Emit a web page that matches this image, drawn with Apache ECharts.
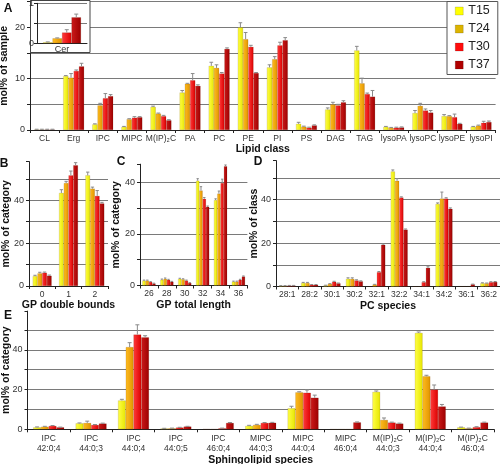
<!DOCTYPE html>
<html><head><meta charset="utf-8">
<script src="https://cdn.jsdelivr.net/npm/echarts@6/dist/echarts.min.js"></script>
<style>html,body{margin:0;padding:0;background:#fff}#c{width:500px;height:464px}</style>
</head><body><div id="c"></div>
<script>
// ---------- DATA ----------
const temps = ['T15', 'T24', 'T30', 'T37'];

// Panel A: lipid classes (mol% of sample)
const lipidClasses = ['CL','Erg','IPC','MIPC','M(IP)\u2082C','PA','PC','PE','PI','PS','DAG','TAG','lysoPA','lysoPC','lysoPE','lysoPI'];
const A_T15 = [0.1, 10.5, 1.1, 0.6, 4.5, 7.3, 12.5, 20.0, 12.2, 1.2, 4.0, 15.5, 0.6, 3.3, 2.7, 0.6];
const A_T24 = [0.1, 10.2, 4.8, 2.1, 3.2, 9.0, 12.1, 17.7, 13.8, 0.65, 5.0, 9.1, 0.4, 4.7, 2.7, 0.85];
const A_T30 = [0.1, 11.5, 6.2, 2.4, 2.7, 9.7, 11.0, 16.2, 16.5, 0.45, 4.8, 7.0, 0.45, 3.8, 2.5, 1.4];
const A_T37 = [0.1, 12.4, 6.6, 2.5, 1.9, 8.6, 15.8, 11.1, 17.5, 0.9, 5.4, 6.5, 0.5, 3.4, 1.2, 1.55];
const A_E15 = [0.05, 0.1, 0.1, 0.1, 0.15, 0.4, 0.7, 0.9, 0.5, 0.3, 0.3, 0.8, 0.1, 0.5, 0.3, 0.1];
const A_E24 = [0.05, 0.8, 0.4, 0.1, 0.1, 0.1, 0.6, 1.3, 0.5, 0.1, 0.4, 1.0, 0.1, 0.5, 0.1, 0.1];
const A_E30 = [0.05, 0.2, 0.9, 0.2, 0.15, 1.3, 0.2, 0.3, 0.6, 0.1, 0.2, 0.2, 0.1, 0.3, 0.6, 0.3];
const A_E37 = [0.05, 0.6, 0.3, 0.1, 0.1, 0.2, 0.2, 0.1, 0.5, 0.1, 0.3, 1.2, 0.1, 0.4, 0.1, 0.2];

// Inset: Cer
const cerCats = ['Cer'];
const Cer_vals = [0.025, 0.125, 0.27, 0.65];
const Cer_errs = [0.01, 0.01, 0.07, 0.08];

// Panel B: GP double bonds
const B_cats = ['0', '1', '2'];
const B_T15 = [4.6, 43.4, 51.6];
const B_T24 = [5.9, 48.0, 45.4];
const B_T30 = [6.2, 51.6, 42.0];
const B_T37 = [4.8, 56.3, 38.5];
const B_E15 = [0.4, 1.5, 1.5];
const B_E24 = [0.5, 0.8, 0.7];
const B_E30 = [0.3, 2.0, 2.5];
const B_E37 = [0.3, 1.2, 0.5];

// Panel C: GP total length
const C_cats = ['26', '28', '30', '32', '34', '36'];
const C_T15 = [1.9, 2.2, 2.6, 40.6, 33.1, 1.5];
const C_T24 = [1.9, 2.6, 2.4, 36.8, 35.6, 1.5];
const C_T30 = [1.4, 2.2, 1.9, 33.6, 39.7, 2.2];
const C_T37 = [0.8, 1.5, 1.0, 30.5, 46.2, 3.5];
const C_E15 = [0.2, 0.3, 0.2, 0.8, 0.5, 0.2];
const C_E24 = [0.2, 0.3, 0.2, 1.5, 1.0, 0.2];
const C_E30 = [0.1, 0.2, 0.2, 0.5, 1.5, 0.2];
const C_E37 = [0.1, 0.1, 0.1, 0.3, 0.5, 0.2];

// Panel D: PC species
const D_cats = ['28:1','28:2','30:1','30:2','32:1','32:2','34:1','34:2','36:1','36:2'];
const D_T15 = [0.3, 1.6, 0.5, 3.5, 0, 53.0, 0, 38.0, 0.1, 1.5];
const D_T24 = [0.3, 1.6, 1.2, 3.5, 0.9, 48.7, 0, 40.5, 0.1, 1.5];
const D_T30 = [0.4, 0.8, 2.2, 2.8, 6.6, 41.0, 2.0, 40.5, 0.1, 2.0];
const D_T37 = [0.4, 0.8, 1.5, 2.4, 19.2, 26.2, 8.6, 35.8, 1.0, 2.1];
const D_E15 = [0.1, 0.3, 0.1, 0.5, 0, 0.7, 0, 0.5, 0, 0.2];
const D_E24 = [0.1, 0.3, 0.1, 0.5, 0.1, 1.0, 0, 3.0, 0, 0.1];
const D_E30 = [0.1, 0.1, 0.2, 0.3, 0.3, 0.3, 0.2, 0.4, 0, 0.2];
const D_E37 = [0.1, 0.1, 0.1, 0.2, 0.4, 0.3, 0.5, 0.4, 0.1, 0.2];

// Panel E: sphingolipid species
const E_cats = ['IPC\n42:0;4','IPC\n44:0;3','IPC\n44:0;4','IPC\n44:0;5','IPC\n46:0;4',
  'MIPC\n44:0;3','MIPC\n44:0;4','MIPC\n46:0;4','M(IP)\u2082C\n44:0;3','M(IP)\u2082C\n44:0;4','M(IP)\u2082C\n46:0;4'];
const E_T15 = [1.0, 3.0, 14.5, 0.4, 0.1, 1.7, 10.6, 0, 18.8, 48.5, 1.0];
const E_T24 = [1.3, 3.2, 41.4, 0.5, 0.1, 2.2, 18.6, 0, 4.7, 26.7, 0.5];
const E_T30 = [1.7, 2.2, 47.7, 0.9, 0.5, 3.2, 18.4, 0, 3.4, 20.0, 1.1];
const E_T37 = [1.0, 2.9, 46.3, 1.4, 3.2, 3.3, 15.9, 3.5, 2.9, 11.5, 3.4];
const E_E15 = [0.2, 0.2, 0.6, 0.1, 0, 0.3, 1.0, 0, 0.5, 0.5, 0.1];
const E_E24 = [0.2, 0.9, 2.2, 0.1, 0, 0.3, 0.3, 0, 1.0, 0.5, 0.1];
const E_E30 = [0.2, 0.2, 4.9, 0.1, 0.1, 0.2, 1.4, 0, 0.2, 2.3, 0.2];
const E_E37 = [0.1, 0.2, 0.8, 0.1, 0.2, 0.2, 1.3, 0.2, 0.2, 1.0, 0.2];

// ---------- STYLE ----------
const FONT = 'Arial, "Liberation Sans", sans-serif';
const barGrad = [['#ffff48', '#e6e600'], ['#ffbc20', '#e09400'], ['#ff3c3c', '#dc0000'], ['#cc1a1a', '#9c0000']];
const legendColors = ['#ffff00', '#dcb400', '#ff0c0c', '#b00000'];
const GRID_COLOR = '#7a7a7a';

function grad(i) {
  return { type: 'linear', x: 0, y: 0, x2: 1, y2: 0,
    colorStops: [{ offset: 0, color: barGrad[i][0] }, { offset: 1, color: barGrad[i][1] }] };
}

const grids = [
  { left: 30, top: 1.7, width: 465.6, height: 128.3 },        // A
  { left: 29, top: 161.6, width: 79, height: 124.4 },          // B
  { left: 140, top: 164.2, width: 107.4, height: 121.3 },      // C
  { left: 276, top: 160.6, width: 224, height: 125.9 },        // D
  { left: 27.5, top: 311.1, width: 466.4, height: 118.2 },     // E
  { left: 37, top: 3.3, width: 50, height: 40, z: 51 }         // inset
].map(g => Object.assign({ outerBoundsMode: 'none', containLabel: false }, g));

function catAxis(g, data, name, nameGap, labelOpts, extra) {
  return Object.assign({
    type: 'category', gridIndex: g, data: data,
    name: name, nameLocation: 'middle', nameGap: nameGap,
    nameTextStyle: { fontWeight: 'bold', fontSize: 10.5, color: '#111', fontFamily: FONT },
    axisLine: { lineStyle: { color: '#222', width: 1 } },
    axisTick: { show: true, length: 3, lineStyle: { color: '#222' } },
    axisLabel: Object.assign({ fontSize: 8.5, color: '#333', margin: 4, interval: 0, fontFamily: FONT, hideOverlap: false }, labelOpts || {}),
    splitLine: { show: false }
  }, extra || {});
}
function valAxis(g, max, interval, labelStep, name, nameGap, showMaxLine, extra) {
  return Object.assign({
    type: 'value', gridIndex: g, min: 0, max: max, interval: interval,
    name: name, nameLocation: 'middle', nameGap: nameGap, nameMoveOverlap: false,
    nameTextStyle: { fontWeight: 'bold', fontSize: 10.5, color: '#111', fontFamily: FONT },
    axisLine: { show: true, lineStyle: { color: '#222', width: 1 } },
    axisTick: { show: true, length: 3, lineStyle: { color: '#222' } },
    axisLabel: { fontSize: 9, color: '#333', margin: 5, fontFamily: FONT, hideOverlap: false,
      formatter: v => (Math.abs(v / labelStep - Math.round(v / labelStep)) < 1e-6 && v <= max) ? String(v) : '' },
    splitLine: { show: true, showMaxLine: showMaxLine, lineStyle: { color: GRID_COLOR, width: 1 } }
  }, extra || {});
}

const xAxes = [
  catAxis(0, lipidClasses, 'Lipid class', 12),
  catAxis(1, B_cats, 'GP double bounds', 13),
  catAxis(2, C_cats, 'GP total length', 12),
  catAxis(3, D_cats, 'PC species', 12),
  catAxis(4, E_cats, 'Sphingolipid species', 22, { lineHeight: 10 }),
  catAxis(5, cerCats, '', 0, { margin: 2, fontSize: 9 }, { z: 52, axisTick: { show: false } })
];
const yAxes = [
  valAxis(0, 25, 5, 10, 'mol% of sample', 20, true),
  valAxis(1, 58, 10, 20, 'mol% of category', 17, false),
  valAxis(2, 47, 10, 20, 'mol% of category', 18, false),
  valAxis(3, 58, 10, 20, 'mol% of class', 16, false),
  valAxis(4, 59.5, 10, 20, 'mol% of category', 15.5, false),
  valAxis(5, 1, 0.5, 1, '', 0, true, { z: 52, axisLabel: { fontSize: 9, color: '#333', margin: 3, fontFamily: FONT,
      formatter: v => (v === 0 || v === 1) ? String(v) : '' } })
];

const series = [];
function addPanel(g, vals, errs, gap, zBase) {
  for (let i = 0; i < 4; i++) {
    series.push({
      name: temps[i], type: 'bar', xAxisIndex: g, yAxisIndex: g,
      data: vals[i], barGap: '0%', barCategoryGap: (gap * 100) + '%',
      itemStyle: { color: grad(i), borderColor: 'rgba(80,40,0,0.35)', borderWidth: 0.4 },
      z: zBase, silent: true
    });
  }
  for (let i = 0; i < 4; i++) {
    const idx = i;
    series.push({
      name: temps[i], type: 'custom', xAxisIndex: g, yAxisIndex: g,
      data: vals[i].map((v, k) => [k, v, errs[i][k]]),
      encode: { x: 0, y: 1 }, z: zBase + 1, silent: true,
      renderItem: function (params, api) {
        const cat = api.value(0), v = api.value(1), e = api.value(2);
        if (!e) return null;
        const p0 = api.coord([cat, v]);
        const p1 = api.coord([cat, v + e]);
        const band = api.size([1, 0])[0];
        const bw = band * (1 - gap) / 4;
        const x = p0[0] + (idx - 1.5) * bw;
        const cap = Math.max(2, Math.min(bw * 0.7, 4));
        return { type: 'group', children: [
          { type: 'line', shape: { x1: x, y1: p0[1], x2: x, y2: p1[1] }, style: { stroke: '#8a8a8a', lineWidth: 1 } },
          { type: 'line', shape: { x1: x - cap / 2, y1: p1[1], x2: x + cap / 2, y2: p1[1] }, style: { stroke: '#8a8a8a', lineWidth: 1 } }
        ] };
      }
    });
  }
}
addPanel(0, [A_T15, A_T24, A_T30, A_T37], [A_E15, A_E24, A_E30, A_E37], 0.28, 2);
addPanel(1, [B_T15, B_T24, B_T30, B_T37], [B_E15, B_E24, B_E30, B_E37], 0.28, 2);
addPanel(2, [C_T15, C_T24, C_T30, C_T37], [C_E15, C_E24, C_E30, C_E37], 0.26, 2);
addPanel(3, [D_T15, D_T24, D_T30, D_T37], [D_E15, D_E24, D_E30, D_E37], 0.24, 2);
addPanel(4, [E_T15, E_T24, E_T30, E_T37], [E_E15, E_E24, E_E30, E_E37], 0.27, 2);
addPanel(5, Cer_vals.map(v => [v]), Cer_errs.map(v => [v]), 0.24, 53);

const letters = [['A', 8, 8.5], ['B', 4, 164], ['C', 121, 162], ['D', 258, 162], ['E', 8, 316]];
const graphic = letters.map(l => ({
  type: 'text', z: 60, style: { text: l[0], x: l[1], y: l[2], textAlign: 'center', textVerticalAlign: 'middle',
    font: 'bold 12px ' + FONT, fill: '#111' }
}));
graphic.push({ type: 'rect', z: 50, shape: { x: 30.5, y: 0.5, width: 59.5, height: 52 },
  style: { fill: '#fff', stroke: '#444', lineWidth: 1 } });

const option = {
  animation: false,
  textStyle: { fontFamily: FONT },
  legend: {
    data: temps.map((t, i) => ({ name: t, itemStyle: { color: legendColors[i], borderColor: 'rgba(0,0,0,0.3)', borderWidth: 0.5 } })),
    orient: 'vertical', left: 447, top: 1.5, icon: 'rect',
    itemWidth: 8, itemHeight: 8, itemGap: 5, itemTextGap: 8,
    padding: [3, 8, 3, 8], borderColor: '#555', borderWidth: 1, backgroundColor: '#fff',
    textStyle: { fontSize: 12.5, color: '#222', fontFamily: FONT }, selectedMode: false, z: 20
  },
  grid: grids, xAxis: xAxes, yAxis: yAxes, series: series, graphic: graphic
};
const chart = echarts.init(document.getElementById('c'), null, { renderer: 'canvas' });
chart.setOption(option);
</script></body></html>
